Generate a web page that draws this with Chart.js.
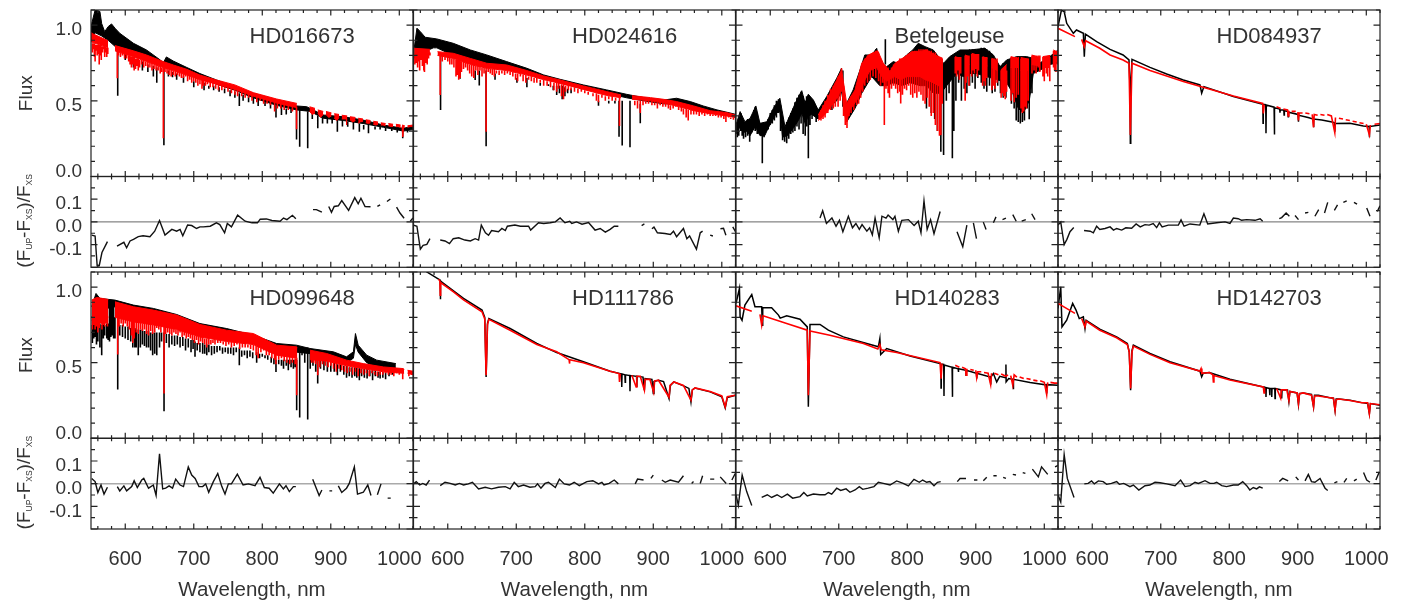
<!DOCTYPE html>
<html>
<head>
<meta charset="utf-8">
<script src="https://cdn.jsdelivr.net/npm/chart.js@4/dist/chart.umd.min.js"></script>
<style>
  html, body { margin: 0; padding: 0; background: #fff; }
  canvas { position: absolute; left: 0; top: 0; }
</style>
</head>
<body>
<div id="figure"></div>
<script>
// wavelength (nm), flux pairs. null = gap in the spectrum
// *Top/*Low are the solid band of a spectrum, *Sticks are absorption lines as [wave, from, to]
const hd016673BlackTop = [[550,1.0],[551,1.01],[556,1.1],[563,1.09],[565.6,1.01],[570,.957],[575,.99],[580,1.008],[585,.98],[592,.946],[612,.88],[631,.836],[651,.77],[655.6,.752],[660,.79],[670,.763],[690,.72],[709,.68],[733,.638],[758,.594],[787,.55],[821,.505],[850,.466],[865,.461],[889,.406],[918,.395],[947,.373],[977,.34],[1006,.318],[1020,.333]];
const hd016673BlackLow = [[550,.9],[556,.95],[565,.93],[575,.9],[585,.86],[612,.81],[631,.78],[655,.73],[670,.71],[690,.69],[709,.65],[733,.61],[760,.57],[787,.52],[821,.47],[850,.44],[870,.43],[889,.385],[918,.37],[947,.35],[977,.325],[1006,.3],[1020,.31]];
const hd016673BlackSticks = [[589,.85,.534],[600,.82,.77],[612,.79,.72],[625,.76,.7],[633,.74,.69],[641,.73,.66],[646,.72,.62],[656.4,.72,.206],[663,.7,.66],[669,.69,.655],[675,.68,.64],[685,.66,.62],[700,.63,.59],[715,.62,.57],[722,.6,.58],[729,.6,.57],[737,.59,.56],[745,.58,.55],[753,.57,.53],[760,.56,.52],[766.5,.55,.466],[772,.54,.5],[780,.53,.49],[787,.52,.48],[794,.52,.466],[804,.5,.466],[812,.49,.45],[820,.47,.39],[828,.46,.406],[835,.45,.41],[842,.45,.42],[850,.44,.245],[854.6,.44,.197],[866.3,.43,.186],[873,.42,.38],[881,.4,.318],[888,.39,.35],[895,.39,.35],[902,.38,.35],[909.6,.38,.296],[917,.37,.33],[924.7,.36,.329],[933,.36,.31],[941.7,.35,.296],[948,.34,.31],[955,.34,.285],[964.6,.33,.31],[972,.33,.31],[980,.32,.3],[989,.32,.3],[997,.31,.29],[1005,.31,.252],[1012,.31,.29]];
const hd016673RedTop = [[550,.95],[551,.946],[575,.897],null,[585,.865],[612,.83],[631,.803],[655,.76],[670,.737],[690,.708],[709,.67],[733,.638],[760,.605],[787,.554],[821,.512],[850.5,.483],null,[869,.461],[877,.45],null,[881,.44],[889,.43],null,[893,.43],[901,.42],null,[905,.415],[912,.41],null,[916,.405],[924,.4],null,[928,.395],[936,.39],null,[940,.385],[947,.38],null,[951,.375],[958,.37],null,[962,.365],[969,.36],null,[973,.355],[980,.35],null,[984,.35],[991,.345],null,[995,.345],[1002,.34],null,[1004,.34],[1008,.335],null,[1012,.335],[1020,.34]];
const hd016673RedLow = [[550,.89],[575,.85],null,[585,.83],[612,.79],[631,.76],[655,.72],[670,.7],[690,.67],[709,.64],[733,.61],[760,.575],[787,.53],[821,.485],[850.5,.455],null,[869,.43],[873,.41],[877,.42],null,[881,.42],[885,.39],[889,.41],null,[893,.41],[897,.39],[901,.4],null,[905,.385],[909,.37],[912,.39],null,[916,.38],[922.7,.38],[923,.34],[923.3,.38],[924,.38],null,[928,.375],[932,.36],[936,.37],null,[940,.351],[943,.36],[947,.365],null,[951,.355],[955,.35],[958,.355],null,[962,.345],[966,.34],[969,.345],null,[973,.34],[976,.34],[980,.335],null,[984,.335],[988,.33],[991,.33],null,[995,.33],[998,.33],[1002,.325],null,[1004,.33],[1005,.263],[1006,.32],[1008,.325],null,[1012,.325],[1016,.33],[1020,.33]];
const hd016673RedSticks = [[552,.88,.82],[553,.88,.84],[555,.88,.79],[556,.87,.76],[558,.87,.83],[559,.87,.8],[561,.87,.81],[562,.87,.74],[564,.87,.8],[565,.86,.77],[567,.86,.82],[568,.86,.84],[570,.86,.79],[571,.86,.82],[573,.85,.79],[574.5,.85,.81],[588.4,.84,.649],[590,.83,.8],[593,.82,.79],[596,.82,.8],[599,.81,.78],[602,.81,.78],[605,.8,.76],[607,.8,.74],[609,.79,.72],[611,.79,.74],[613,.79,.7],[615,.78,.71],[617,.78,.73],[619,.78,.7],[621,.77,.72],[624,.77,.74],[627,.77,.72],[630,.76,.73],[633,.76,.72],[636,.75,.72],[639,.75,.7],[642,.74,.71],[645,.74,.7],[648,.73,.7],[651,.73,.68],[653,.72,.69],[655.6,.72,.252],[658,.72,.69],[661,.72,.68],[664,.71,.67],[667,.71,.66],[670,.7,.67],[673,.7,.66],[676,.7,.67],[679,.69,.66],[682,.69,.65],[685,.68,.65],[688,.68,.66],[691,.67,.63],[694,.67,.64],[697,.66,.62],[700,.66,.63],[703,.65,.62],[706,.65,.6],[709,.64,.61],[712,.64,.58],[714,.64,.6],[717,.63,.6],[720,.63,.61],[724,.62,.59],[728,.62,.59],[732,.61,.58],[736,.61,.57],[741,.6,.57],[745,.6,.58],[750,.59,.56],[755,.58,.55],[760,.58,.54],[764,.57,.53],[770,.56,.53],[775,.56,.52],[780,.55,.52],[785,.54,.5],[792,.53,.49],[797,.53,.5],[802,.52,.48],[807,.51,.48],[812,.5,.47],[818,.49,.43],[822,.49,.45],[827,.48,.45],[832,.48,.44],[838,.47,.44],[844,.46,.43],[850,.46,.312]];

const hd024616BlackTop = [[551,.847],[555,.98],[560,.957],[567,.92],[584,.909],[608,.88],[633,.836],[657,.803],[686,.759],[715.5,.715],[740,.671],[764,.642],[798,.605],[832,.572],[861,.543],[886,.521],[915,.505],[934,.517],[954,.495],[973,.466],[993,.44],[1020,.411]];
const hd024616BlackLow = [[551,.78],[555,.84],[567,.84],[574,.84],[579,.85],[584,.85],[608,.8],[633,.76],[657,.73],[686,.71],[715.5,.68],[740,.65],[764,.62],[798,.58],[832,.55],[861,.52],[886,.5],[915,.48],[934,.48],[954,.46],[973,.44],[993,.42],[1020,.39]];
const hd024616BlackSticks = [[589.5,.8,.44],[618,.7,.646],[640,.7,.638],[646,.7,.602],[656,.7,.2],[669,.68,.64],[701,.65,.62],[715.5,.65,.589],[735,.62,.6],[747,.61,.598],[754,.6,.57],[759,.6,.539],[763,.6,.55],[767,.6,.51],[771,.59,.53],[775,.58,.55],[780,.58,.55],[820,.5,.468],[835,.5,.483],[844,.5,.483],[850,.5,.263],[854.6,.5,.204],[866,.5,.193],[881,.48,.351]];
const hd024616RedTop = [[551,.847],[574,.84],null,[585,.825],[608,.814],[633,.78],[657,.748],[686,.737],[715.5,.7],[740,.664],[764,.638],[798,.598],[832,.561],[853,.539],null,[869,.534],[896,.521],[915,.51],[934,.495],[959,.466],[983,.435],[1007,.422],[1020,.406]];
const hd024616RedLow = [[551,.8],[574,.82],null,[585,.8],[608,.78],[633,.74],[657,.715],[686,.7],[715.5,.67],[740,.64],[764,.615],[798,.575],[832,.535],[853,.52],null,[869,.51],[896,.5],[915,.485],[934,.465],[959,.435],[983,.415],[1007,.4],[1020,.39]];
const hd024616RedSticks = [[552,.81,.74],[554,.81,.75],[556,.81,.72],[558,.81,.76],[559,.81,.7],[561,.81,.77],[563,.82,.73],[565,.82,.7],[566,.82,.69],[568,.82,.75],[570,.82,.74],[572,.82,.78],[574,.82,.8],[589,.8,.539],[592,.8,.76],[596,.79,.77],[600,.79,.76],[603,.79,.74],[606,.78,.74],[609,.78,.72],[612,.77,.66],[614,.77,.67],[616,.77,.64],[618,.77,.65],[620,.76,.69],[623,.76,.71],[626,.75,.72],[629,.75,.7],[632,.74,.68],[635,.74,.66],[638,.74,.65],[641,.73,.7],[644,.73,.67],[647,.73,.7],[650,.72,.66],[653,.72,.68],[656,.72,.296],[659,.71,.69],[662,.71,.68],[665,.71,.67],[668,.71,.66],[671,.7,.68],[675,.7,.67],[679,.7,.68],[683,.7,.67],[687,.7,.68],[691,.69,.67],[695,.69,.66],[699,.68,.64],[702,.68,.63],[706,.68,.66],[710,.67,.63],[714,.67,.62],[718,.66,.64],[722,.66,.63],[726,.65,.62],[730,.65,.62],[735,.64,.62],[740,.64,.6],[745,.63,.6],[750,.63,.59],[755,.62,.57],[759,.62,.56],[762,.62,.58],[766,.61,.53],[769,.61,.51],[772,.6,.56],[776,.6,.57],[780,.59,.57],[785,.59,.56],[790,.58,.55],[795,.58,.56],[800,.57,.55],[805,.56,.54],[812,.55,.53],[817,.55,.5],[820,.54,.49],[825,.54,.52],[830,.53,.5],[835,.53,.51],[840,.53,.5],[845,.52,.5],[850.7,.52,.334],[873,.5,.47],[877,.5,.45],[881,.5,.42],[885,.5,.47],[889,.5,.48],[893,.5,.48],[898,.5,.47],[902,.49,.47],[906,.49,.45],[910,.49,.47],[914,.49,.46],[918,.48,.46],[922,.48,.45],[925,.47,.44],[929,.47,.45],[933,.47,.46],[937,.46,.44],[941,.46,.43],[944,.45,.41],[948,.45,.39],[951,.44,.37],[955,.44,.41],[959,.44,.41],[963,.44,.41],[967,.43,.4],[971,.43,.41],[975,.42,.4],[979,.42,.41],[983,.42,.4],[987,.41,.4],[991,.41,.4],[995,.41,.39],[999,.41,.39],[1003,.41,.38],[1006,.4,.36],[1010,.4,.39],[1013,.39,.38],[1017,.39,.375]];

const betelgeuseBlackTop = [[550,.34],[556,.429],[563,.362],[570.5,.384],[579,.466],[585,.351],[595,.362],[604.5,.45],[614,.517],[621.5,.329],[629,.406],[638.6,.505],[646,.567],[651,.483],[655.6,.543],[663,.505],[670,.439],[682.4,.528],[697,.649],[704,.715],[709,.461],[721,.572],[731,.704],[738,.803],[748,.803],[755.4,.847],[760,.748],[770,.726],[779.6,.759],[787,.748],[799,.803],[808,.836],[816,.88],[826,.858],[838,.836],[853,.748],[862,.792],[877,.836],[891.6,.836],[913.5,.847],[925.7,.803],[935.4,.726],[945,.77],[959.7,.792],[974,.792],[984,.781],[993,.748],[1008,.792],[1020,.836]];
const betelgeuseBlackLow = [[550,.28],[556,.33],[561,.29],[566,.3],[570.5,.27],[578,.33],[585,.27],[592,.27],[597,.32],[602,.36],[609,.42],[614,.43],[618,.26],[625,.27],[633.7,.32],[641,.37],[646,.42],[651,.35],[655.6,.4],[660.5,.41],[670,.38],[682.4,.44],[697,.5],[704,.56],[711.5,.36],[723.7,.45],[733.5,.55],[748,.66],[760,.6],[770,.6],[779.6,.62],[791.8,.6],[804,.62],[818.6,.6],[828.3,.6],[838,.55],[849,.55],[857.5,.6],[872,.68],[881.9,.66],[891.6,.68],[901.3,.68],[915.9,.66],[930.5,.64],[945,.62],[954,.55],[962,.45],[969.5,.42],[978,.5],[984,.68],[993,.7],[1008,.74],[1020,.75]];
const betelgeuseBlackSticks = [[552,.36,.26],[554,.38,.27],[557,.42,.3],[559,.38,.27],[561,.36,.25],[564,.35,.26],[567,.38,.27],[570,.38,.23],[573,.4,.29],[576,.44,.32],[578,.46,.3],[581,.42,.28],[584,.36,.28],[588.4,.34,.087],[591,.34,.26],[594,.36,.3],[597,.38,.31],[600,.42,.34],[603,.44,.35],[606,.47,.37],[609,.5,.39],[612,.51,.42],[615,.47,.3],[618,.38,.24],[621,.33,.23],[624,.36,.22],[627,.39,.25],[630,.42,.28],[633,.45,.29],[636,.49,.3],[639,.52,.33],[642,.54,.31],[645,.56,.35],[648,.53,.28],[651,.5,.27],[653,.53,.33],[655.6,.54,.12],[658,.52,.34],[661,.5,.38],[664,.49,.4],[667,.46,.36],[690,.57,.44],[706,.7,.46],[754,.84,.68],[768,.906,.74],[828,.8,.45],[835,.78,.42],[840,.75,.38],[844,.72,.3],[849,.7,.164],[853,.72,.142],[857,.74,.5],[861,.78,.55],[865.8,.78,.12],[868,.78,.3],[871,.8,.5],[875,.82,.62],[879,.83,.5],[883,.83,.58],[887,.83,.55],[891,.84,.6],[895,.84,.62],[899,.84,.58],[903,.84,.65],[908,.85,.62],[912,.85,.58],[916,.84,.56],[920,.83,.6],[924,.81,.55],[928,.78,.56],[932,.74,.6],[936,.73,.55],[940,.75,.52],[944,.76,.52],[948,.77,.6],[952,.78,.48],[956,.79,.45],[959,.79,.37],[962,.79,.36],[965,.79,.35],[968,.79,.36],[971,.79,.37],[975,.79,.45],[978,.78,.378],[982,.78,.55]];
const betelgeuseRedTop = [[670,.406],[682.4,.505],[697,.638],[704.2,.704],[711.5,.483],[723.7,.572],[733.5,.748],[743.2,.803],[756.8,.831],[765,.748],[774.8,.693],[782,.748],[796.7,.792],[806.4,.825],[818.6,.825],[828.3,.836],[840.5,.803],[851.7,.781],null,[869.7,.792],[878,.78],null,[884.3,.803],[890.6,.79],null,[894,.814],[903.8,.8],null,[910,.792],[916.9,.78],null,[923.2,.781],[931.5,.76],null,[936.4,.704],[945.1,.74],null,[951,.792],[962.2,.78],null,[965.5,.787],[976.8,.775],null,[981.6,.803],[993.8,.785],null,[997.7,.792],[1008.4,.8],null,[1013.2,.836],[1020,.82]];
const betelgeuseRedLow = [[670,.37],[680,.41],[690,.47],[699.4,.53],[704.2,.6],[707.7,.42],[711.5,.36],[716.4,.44],[728.6,.52],[736,.62],[745.6,.7],[755.3,.72],[762.7,.66],[770,.63],[782,.66],[790.4,.64],[799,.66],[808.9,.66],[818.6,.66],[826,.64],[838,.62],[845,.6],[850.7,.6],null,[869.7,.74],[878,.73],null,[884.3,.75],[890.6,.74],null,[894,.76],[903.8,.75],null,[910,.74],[916.9,.73],null,[923.2,.72],[931.5,.7],null,[936.4,.65],[945.1,.66],null,[951,.72],[962.2,.72],null,[965.5,.7],[976.8,.7],null,[981.6,.74],[993.8,.73],null,[997.7,.72],[1008.4,.72],null,[1013.2,.76],[1020,.76]];
const betelgeuseRedSticks = [[674,.44,.37],[677,.47,.38],[680,.5,.39],[684,.54,.42],[688,.58,.44],[692,.6,.45],[695,.62,.46],[699,.66,.46],[702,.68,.5],[704,.715,.56],[707,.6,.4],[709.5,.5,.34],[712,.48,.32],[715,.5,.4],[718,.53,.42],[722,.55,.44],[726,.6,.47],[729,.66,.48],[732,.7,.52],[735,.74,.56],[738,.78,.6],[742,.8,.62],[746,.8,.64],[750,.82,.66],[754,.83,.65],[758,.82,.63],[761,.76,.6],[764,.75,.62],[766.5,.7,.34],[769,.73,.58],[772,.72,.55],[774,.7,.52],[777,.72,.58],[780,.74,.6],[783,.75,.58],[786,.76,.55],[789,.78,.56],[790.4,.78,.483],[793,.78,.54],[796,.79,.58],[799,.8,.57],[802,.81,.6],[805,.82,.54],[808,.82,.52],[811,.83,.55],[814,.83,.52],[817,.84,.56],[820,.84,.54],[823,.84,.5],[826,.84,.48],[829,.84,.52],[832,.83,.46],[835,.83,.4],[838,.82,.42],[841,.82,.34],[844,.8,.3],[847,.79,.27],[849,.78,.274],[851,.78,.48],[870,.79,.68],[872,.79,.66],[874,.79,.7],[876,.79,.64],[878,.79,.68],[884.5,.8,.5],[886,.8,.62],[888,.8,.66],[890,.8,.6],[894,.81,.66],[896,.81,.7],[898,.81,.68],[900,.81,.71],[902,.81,.66],[904,.81,.7],[910,.79,.6],[912,.79,.63],[914,.79,.6],[916,.79,.65],[923.5,.78,.57],[926,.78,.6],[928,.78,.58],[931,.78,.62],[937,.7,.52],[939,.7,.55],[941,.7,.53],[943,.7,.51],[945,.7,.56],[951.5,.79,.5],[954,.79,.55],[956,.79,.49],[959,.79,.52],[962,.79,.54],[966,.78,.45],[968,.78,.42],[970,.78,.43],[972,.78,.46],[974,.78,.45],[976.5,.78,.5],[982,.8,.68],[985,.8,.7],[988,.8,.68],[991,.8,.72],[993.5,.8,.69],[998,.79,.66],[1000,.79,.63],[1003,.79,.68],[1005,.79,.66],[1008,.79,.63],[1013.5,.83,.72],[1015,.83,.7],[1017,.83,.69],[1019.5,.83,.74]];

const hd084937Black = [[550,.99],[555,1.1],[559,1.09],[562.7,1.012],[572.4,.946],[577,.968],[587,.946],[588.4,.792],[590,.94],[606.4,.891],[626,.84],[645,.803],[653.6,.77],[655,.6],[655.6,.219],[656.2,.6],[658,.774],[684.3,.721],[708.6,.677],[732.9,.638],[757.2,.605],[759.7,.55],[763,.594],[806,.528],[849,.477],[849.3,.351],[849.6,.477],[853.2,.475],[853.6,.285],[854,.472],[865.4,.458],[865.8,.278],[866.2,.455],[873.6,.445],[874,.422],[874.4,.44],[879.6,.44],[880,.406],[880.4,.435],[885.6,.43],[886,.395],[886.4,.425],[900.4,.41],[900.8,.362],[901.2,.405],[915,.39],[922.6,.38],[923,.325],[923.4,.38],[935,.373],[950,.36],[953.6,.355],[954,.296],[954.4,.35],[976,.351],[995.7,.334],[1004.2,.33],[1004.5,.259],[1004.8,.33],[1020,.34]];
const hd084937Red = [[550,.979],[574.8,.924],null,[584.5,.906],[588.4,.858],[590.4,.897],[611,.847],[626,.803],[645,.77],[653.6,.748],[655.6,.274],[658,.748],[684.3,.7],[708.6,.664],[732.9,.627],[771.9,.576],[806,.532],[848.8,.483],[849.7,.417],[851,.475],null,[869,.46],[875,.45],null,[879,.445],[885,.44],[886,.4],[887,.435],null,[891,.43],[897,.43],null,[900,.425],[901,.37],[902,.42],[907,.42],null,[911,.42],[917,.415],null,[921,.41],[923,.325],[924,.41],[929,.405],null,[933,.41],[939,.405],null,[943,.41],[949,.4],[954,.29],[955,.39],null,[960,.385],[966,.38],null,[970,.375],[976,.37],null,[980,.365],[986,.36],null,[990,.355],[996,.35],null,[1000,.345],[1004.5,.275],[1006,.34],null,[1012,.345],[1020,.35]];

const hd099648BlackTop = [[551,.87],[557.3,.958],[563,.925],[585,.914],[612,.881],[641,.859],[675,.819],[709,.759],[748,.726],[787,.682],[821,.627],[850,.616],[869.7,.594],[903.8,.572],[923,.539],[933,.572],[936,.693],[940,.616],[952.4,.55],[967,.517],[995,.494]];
const hd099648BlackLow = [[551,.8],[557,.85],[563,.85],[585,.87],[612,.84],[641,.81],[675,.77],[709,.72],[748,.68],[787,.64],[821,.58],[850,.57],[869.7,.56],[903.8,.53],[923,.5],[933,.53],[936,.62],[940,.57],[952.4,.5],[967,.47],[995,.46]];
const hd099648BlackSticks = [[552,.75,.63],[554,.75,.66],[556,.76,.67],[558,.76,.62],[560,.76,.64],[563,.76,.6],[565.6,.75,.55],[568,.75,.66],[570,.75,.68],[573,.76,.66],[575,.76,.65],[577,.88,.64],[579,.9,.67],[581,.9,.68],[583,.89,.66],[585,.8,.66],[589,.8,.322],[592,.75,.68],[596,.75,.67],[600,.74,.66],[604,.74,.65],[608,.73,.64],[611,.73,.6],[614,.73,.6],[616,.72,.6],[619,.72,.55],[622,.72,.6],[625,.72,.62],[628,.71,.61],[631,.71,.6],[634,.71,.6],[637,.7,.58],[640,.7,.55],[643,.7,.56],[646,.7,.55],[650,.7,.6],[653,.7,.64],[656.6,.7,.179],[660,.69,.63],[664,.69,.6],[668,.68,.62],[672,.68,.61],[676,.68,.62],[680,.67,.6],[684,.67,.61],[688,.66,.58],[692,.66,.6],[696,.65,.57],[699,.65,.59],[701.8,.64,.539],[705,.63,.58],[709,.63,.57],[713,.63,.56],[716,.62,.56],[719,.62,.55],[722,.62,.57],[726,.61,.55],[730,.61,.56],[734,.61,.57],[738,.61,.58],[742,.6,.56],[746,.6,.57],[750,.6,.56],[754,.6,.56],[758,.6,.55],[762,.6,.57],[766.5,.6,.483],[770,.58,.54],[774,.58,.55],[778,.58,.53],[782,.58,.54],[786,.57,.53],[791.8,.57,.5],[796,.56,.53],[800,.56,.54],[804,.55,.53],[808,.55,.52],[813,.54,.5],[817,.53,.49],[820,.52,.439],[824,.52,.49],[828,.52,.48],[831,.52,.46],[835,.52,.48],[838,.52,.45],[842,.52,.47],[845.4,.52,.46],[848,.52,.47],[850.2,.52,.185],[854.6,.6,.137],[858,.6,.55],[862,.6,.5],[866.3,.6,.124],[870,.56,.46],[874,.55,.48],[878,.54,.44],[880.9,.53,.362],[885,.52,.46],[890,.52,.45],[895,.51,.44],[900,.5,.44],[905,.5,.44],[909.6,.49,.417],[914,.49,.44],[919,.48,.42],[923,.48,.4],[927,.47,.41],[931,.47,.4],[935,.47,.41],[938,.47,.4],[941.7,.47,.384],[945,.46,.41],[949,.46,.4],[953,.46,.395],[957,.45,.41],[961,.45,.384],[965,.45,.41],[969,.44,.4],[972,.44,.395],[976,.44,.4],[980,.45,.39],[985,.45,.41],[990,.46,.42]];
const hd099648RedTop = [[551,.914],[558.3,.932],[575.3,.918],null,[585,.903],[612,.87],[641,.848],[675,.815],[709,.753],[748,.715],[787,.693],[821,.616],[850,.605],[851.2,.6],null,[869.7,.583],[894,.561],[923,.517],[947.5,.494],[977,.472],[1006,.461],[1007,.455],null,[1012,.45],[1020,.444]];
const hd099648RedLow = [[551,.78],[575.3,.8],null,[585,.8],[612,.77],[641,.75],[675,.72],[709,.67],[748,.64],[787,.62],[821,.55],[850,.53],[851.2,.53],null,[869.7,.52],[894,.51],[923,.48],[947.5,.46],[977,.44],[1006,.43],[1007,.43],null,[1012,.43],[1020,.42]];
const hd099648RedSticks = [[552,.8,.72],[554,.8,.75],[556,.8,.72],[558,.8,.74],[560,.8,.7],[562,.8,.73],[564,.8,.76],[566,.8,.72],[568,.8,.75],[570,.8,.74],[572,.81,.76],[574,.81,.74],[589,.8,.554],[591,.8,.74],[594,.8,.76],[597,.79,.74],[600,.79,.76],[603,.79,.74],[606,.78,.72],[609,.78,.68],[611,.78,.63],[613,.78,.66],[616,.77,.7],[619,.77,.69],[622,.77,.72],[625,.76,.71],[628,.76,.72],[631,.76,.69],[634,.76,.68],[637,.76,.71],[640,.75,.69],[643,.75,.7],[646,.75,.73],[649,.75,.72],[652,.74,.7],[656.6,.74,.296],[659,.74,.69],[662,.74,.7],[665,.73,.69],[668,.73,.68],[671,.73,.7],[674,.72,.69],[677,.72,.68],[680,.72,.7],[683,.71,.67],[686,.71,.68],[689,.7,.66],[692,.7,.67],[695,.69,.66],[698,.69,.65],[701,.68,.63],[704,.68,.65],[707,.67,.62],[710,.67,.64],[713,.67,.63],[716,.66,.62],[719,.66,.6],[722,.66,.62],[725,.65,.62],[728,.65,.63],[731,.65,.62],[735,.65,.63],[739,.65,.63],[743,.64,.62],[747,.64,.61],[751,.64,.62],[755,.64,.6],[759,.64,.61],[763,.64,.62],[767,.63,.59],[771,.63,.6],[775,.63,.6],[779,.62,.6],[783,.62,.59],[787,.62,.58],[791,.61,.55],[794,.61,.53],[798,.6,.57],[802,.6,.58],[806,.59,.55],[810,.58,.55],[814,.58,.53],[818,.57,.52],[820,.56,.49],[824,.56,.52],[828,.55,.53],[832,.55,.51],[836,.54,.5],[840,.54,.49],[844,.54,.5],[848,.53,.49],[850.2,.53,.285],[872,.53,.5],[875,.53,.5],[878,.53,.49],[881,.52,.417],[884,.52,.47],[888,.52,.49],[892,.52,.48],[896,.51,.47],[900,.51,.48],[904,.5,.46],[908,.5,.44],[912,.49,.46],[916,.49,.45],[920,.48,.44],[924,.48,.43],[928,.47,.44],[932,.47,.42],[936,.47,.44],[940,.46,.41],[944,.46,.43],[948,.46,.42],[952,.45,.43],[956,.45,.41],[960,.45,.43],[964,.44,.42],[968,.44,.41],[972,.44,.42],[976,.44,.42],[980,.44,.43],[984,.44,.42],[988,.44,.42],[992,.44,.41],[996,.44,.43],[1000,.44,.42],[1005,.44,.39],[1014,.43,.41],[1018,.43,.42]];

const hd111786Black = [[565,1.12],[569.5,1.1],[589,1.046],[589.2,.92],[589.6,1.04],[623,.925],[650,.848],[654,.8],[656,.406],[658,.76],[660,.792],[691,.726],[730,.627],[759,.567],[798,.506],[837,.444],[852,.428],[853.6,.425],[854,.34],[854.4,.425],[858.6,.42],[859,.37],[859.4,.42],[865.6,.415],[866,.311],[866.4,.415],[875.6,.41],[876,.34],[876.4,.41],[885,.405],[887,.318],[888,.395],[898,.39],[900,.296],[901,.375],[907.6,.384],[915,.375],[923,.263],[925,.35],[930,.373],[945,.345],[952,.33],[955,.241],[957,.32],[961,.333],[983,.307],[1000,.274],[1005,.201],[1008,.27],[1020,.285]];
const hd111786Red = [[586.5,1.053],[588.5,1.04],[589,.947],[589.6,1.03],[608.4,.969],[623,.915],[650,.837],[654,.79],[656,.417],[658,.75],[660,.787],[691,.715],[730,.62],[759,.572],[777,.52],[777.6,.494],[778.2,.52],[798,.5],[837,.444],[850,.428],[850.7,.373],[852,.428],null,[868.7,.417],[875,.34],[876,.41],[881,.41],[887,.318],[888,.39],[895,.39],[900.5,.305],[902,.38],[907.6,.384],[923,.272],[924.5,.35],[930,.373],[944,.35],[955,.252],[957,.32],[961,.333],[983,.31],[1000,.28],[1005,.207],[1008,.275],[1020,.285]];

const hd140283Black = [[550,.892],[555,.991],[556,.804],[558.8,.781],[563,.881],[573,.951],[577.7,.87],[587.5,.87],[588.4,.748],[589,.865],[602,.863],[612,.815],[614.5,.795],[624,.81],[643.4,.788],[654,.737],[655.6,.208],[658,.753],[672.6,.753],[684.8,.715],[706.7,.671],[740.8,.627],[757.8,.605],[760,.66],[761.2,.554],[770,.594],[804,.545],[847.8,.494],[849,.49],[849.3,.333],[849.6,.49],[853.2,.488],[853.6,.28],[854,.485],[865.4,.47],[865.8,.274],[866.2,.47],[874.2,.46],[874.6,.439],[875,.46],[885.4,.45],[885.8,.417],[886.2,.45],[900.9,.43],[901.3,.395],[901.7,.43],[921.3,.405],[921.7,.355],[922.1,.405],[925.7,.428],[930.5,.373],[935,.41],[943.7,.4],[944,.488],[944.3,.373],[948,.395],[954.4,.39],[954.8,.325],[955.2,.39],[979.2,.369],[1003,.353],[1003.5,.296],[1004,.355],[1020,.351]];
const hd140283Red = [[550,.876],[573,.841],null,[585,.819],[587.5,.748],[589.5,.81],[624,.759],[654,.715],[655.6,.285],[658,.71],[687,.682],[736,.627],[757,.59],[760,.62],[762,.585],[784.5,.567],[847.8,.501],[849.3,.395],[850.7,.495],null,[870,.483],[876,.47],null,[880,.47],[885,.46],[885.8,.417],[887,.46],null,[892,.455],[897,.45],null,[900,.45],[901.3,.4],[903,.44],[908,.44],null,[912,.435],[918,.43],[921.7,.355],[923,.43],null,[927,.43],[933,.42],null,[937,.425],[944,.41],[947,.42],null,[951,.415],[954,.351],[956,.42],[960,.405],null,[964,.405],[970,.395],null,[974,.395],[980,.39],null,[984,.385],[990,.38],null,[994,.38],[1000,.37],[1003.5,.289],[1005,.37],null,[1009,.37],[1015,.365],[1020,.365]];

const hd142703Black = [[550,.859],[554,1.002],[555.8,.737],[562.7,.781],[571.4,.892],[576.3,.848],[581,.792],[587,.804],[589.4,.726],[591,.78],[611,.722],[635.6,.671],[651.2,.627],[654,.57],[656,.318],[658,.58],[660,.616],[684.3,.561],[713.5,.506],[757.2,.444],[759.7,.406],[762,.43],[771,.435],[801,.391],[849.7,.34],[851,.34],[853.2,.335],[853.6,.274],[854,.335],[858.6,.33],[859,.285],[859.4,.33],[861.6,.33],[862,.274],[862.4,.33],[866.4,.33],[866.8,.263],[867.2,.33],[876,.32],[876.5,.263],[877,.32],[885,.32],[887,.245],[888.5,.31],[899,.3],[901,.223],[902.5,.295],[908,.3],[920,.29],[923,.208],[924.5,.285],[930,.285],[945,.27],[952,.265],[954.4,.185],[956,.26],[960,.26],[976.3,.252],[993.4,.236],[1002,.23],[1004.5,.163],[1006,.23],[1020,.219]];
const hd142703Red = [[550,.892],[574.8,.826],null,[584.5,.792],[589.4,.737],[591,.775],[611,.715],[635.6,.665],[651.2,.62],[654,.57],[656,.329],[658,.57],[660,.61],[684.3,.555],[713.5,.5],[757,.445],[758.8,.461],[760,.43],[771,.435],[776,.42],[776.8,.373],[777.6,.415],[801,.385],[849.7,.34],[850.7,.3],[851.5,.335],null,[869.2,.329],[875,.266],[876,.32],[884,.32],[887,.25],[888.5,.31],[899,.3],[901,.23],[902.5,.295],[908,.3],[920,.285],[923,.208],[924.5,.28],[930,.28],[945,.27],[952,.265],[954.4,.185],[956,.255],[960,.26],[976.3,.25],[993.4,.235],[1002,.235],[1004.5,.163],[1006,.23],[1020,.222]];

// residuals (F_UP-F_XS)/F_XS
const hd016673Resid = [[551,-.058],[556,-.062],[559,-.193],[562,-.193],[566,-.135],[574,-.087],null,[588,-.107],[598,-.09],[602,-.114],[607,-.084],[612,-.077],[619,-.065],[626,-.061],[636,-.065],[643,-.041],[650,.006],[658,-.058],[668,-.033],[675,-.041],[680,-.033],[684,-.061],[691,-.014],[697,-.016],[704,-.029],[709,-.022],[714,-.022],[724,-.019],[733,-.004],[738,-.012],[745,-.048],[749,-.007],[755,-.022],[764,.03],[775,.003],[785,-.004],[793,-.004],[797,.012],[806,.013],[814,.006],[826,.003],[831,.017],[836,.01],[844,.029],[849,.014],null,[874,.054],[879,.054],[887,.043],null,[897,.068],[901,.042],[905,.068],[911,.071],[916,.094],[926,.051],[935,.107],[940,.08],[944,.104],[950,.068],[958,.067],null,[968,.068],[972,.075],null,[982,.09],[987,.101],null,[996,.065],[1001,.039],[1007,.016],null,[1016,.003],[1020,.017]];
const hd024616Resid = [[550,-.014],[555,-.019],[560,-.12],[564,-.103],[569.5,-.099],[574,-.074],null,[589,-.08],[596,-.084],[602.5,-.096],[608,-.074],[616,-.07],[625,-.08],[633,-.084],[640,-.074],[645,-.08],[649,-.014],[655,-.048],[659.5,-.059],[664,-.038],[674,-.043],[679,-.029],[684,-.038],[687,-.019],[698,-.014],[706,-.019],[718,-.019],[721,-.036],[732.5,-.004],[740,-.007],[749.5,-.004],[757,0],[764,.017],[771,-.004],[778,.003],[781,-.007],[788,0],[796,-.01],[805.5,-.003],[815,-.036],[822.5,-.029],[830,-.045],[837,-.033],[843,-.019],[849,-.019],null,[883,-.016],[887,-.009],null,[898,-.03],[901,-.023],[906,-.048],[917,-.051],[925,-.055],[929.5,-.041],[934,-.065],[944,-.029],[949,-.074],[953,-.062],[963,-.12],[968.5,-.048],[972,-.041],null,[983,-.058],[987,-.062],null,[998,-.03],[1002.5,-.028],[1006,-.059],null,[1016,-.022],[1020,-.043]];
const betelgeuseResid = [[672.6,.017],[676.5,.049],[682,-.007],[690,.017],[696,-.019],[701,.007],[706,-.043],[714,.025],[720,-.026],[725,-.007],[730,-.033],[734,-.012],[741,-.041],[745,-.026],[749,-.057],[753,.017],[759,-.07],[763,.025],[769,.017],[772,.03],[779,.01],[782,.025],[787,-.041],[792,.007],[801.6,.01],[810,-.016],[816,.003],[820,-.048],[824.4,.093],[829,-.033],[834,.01],[839,-.052],[848,.046],null,[872.6,-.043],[881,-.109],[887,-.014],null,[896.5,-.004],[901,-.074],null,[911,-.001],[915,-.033],null,[925.7,-.004],[929.5,.022],null,[939,.01],[944,.017],null,[954,.032],[959,.003],null,[967,.003],[973,.01],null,[981.6,.036],[986.5,.01]];
const hd084937Resid = [[550,-.014],[554,-.001],[559,-.1],[563,-.077],[567.5,-.043],[573,-.025],null,[588,-.038],[597,-.041],[601.6,-.048],[606.4,-.019],[611,-.033],[618.6,-.029],[626,-.022],[631,-.036],[635.6,-.029],[643,-.036],[649,-.026],[657.5,-.028],[664,-.009],[670,-.022],[677,-.012],[683,-.014],[689,-.007],[694,-.025],[698,-.004],[702,-.022],[711,-.014],[725.7,-.014],[729.6,.009],[734,-.019],[742.7,-.009],[757,-.014],[763,.036],[768.5,-.009],[781.6,-.004],[793.8,0],[801,-.007],[806,.017],[813,.014],[818,.007],[825.4,.01],[837.6,.007],[845,.014],[848.8,.003],null,[873,.014],[876.5,.019],[883,.039],[887.7,.025],null,[896,.028],[901,.01],null,[910.6,.039],[915.4,.042],null,[925,.025],[930.5,.054],null,[939,.039],[943.7,.086],null,[953.4,.051],[958,.075],null,[966.5,.086],[971.4,.093],null,[982,.086],[986.5,.078],null,[1000.6,.061],[1005.4,.025],null,[1016,.046],[1020,.071]];
const hd099648Resid = [[551,.023],[556,.009],[560,-.039],[564.6,-.006],[569,-.046],[574,-.016],null,[588.4,-.013],[592,-.032],[598,-.01],[602,-.032],[609.4,-.013],[613,.013],[617.6,-.017],[624,.016],[627,.023],[634,-.02],[641,-.006],[645,-.052],[650,.132],[654.6,-.023],[659,-.02],[664,-.01],[669,-.02],[673.6,.02],[680,-.006],[685,-.013],[692,.074],[697,.038],[702,.023],[707.6,-.013],[713,-.013],[717.4,-.001],[721.8,-.038],[728.6,.009],[735,.045],[741,-.013],[745.6,-.046],[750.5,-.001],[755,-.001],[763.6,.042],[772,-.006],[779.7,-.001],[789.4,-.009],[796.7,.028],[803,-.017],[810,-.02],[816,-.042],[825,-.001],[830.8,-.023],[834.6,-.009],[839.5,-.035],[845.4,-.013],[849,-.013],null,[873.6,.019],[883,-.052],[887,-.028],null,[898,-.032],[902,-.032],null,[911,-.01],[916,-.039],[923,-.02],[927,.001],[934.4,.074],[939,-.046],[947.5,-.038],[954,-.006],[958.7,-.052],null,[968,-.049],[973.3,-.001],null,[983,-.064],[987.5,-.064]];
const hd111786Resid = [[550,-.001],[554,.009],[559,-.006],[563.6,.001],[568.5,-.006],[573.4,.016],null,[589,-.009],[596,.006],[603.5,.001],[611,-.006],[617,.001],[623,-.006],[630,-.001],[636,.006],[645,-.023],[654.6,-.016],[664,-.023],[674,-.016],[684,-.013],[691,-.023],[697,.006],[703,-.013],[710.6,-.006],[720,-.016],[727.6,-.013],[731,-.001],[736,-.02],[742,.001],[747,.006],[757,-.017],[763,.02],[770,-.001],[777.7,-.006],[784.5,.006],[792,-.009],[803,.009],[811.8,.013],[820,-.001],[825,.006],[828,-.006],[835.6,.001],[843,.016],[849,-.001],null,[873.6,-.001],[877,.02],[885.8,.016],null,[896.5,.023],[900,.038],null,[912.5,.016],[917.4,.006],[924.7,.016],[936.8,.006],[944,.035],null,[956,.001],[958.7,.009],null,[968.5,.001],[972,.035],null,[983,.02],[989,.02],null,[997.7,.03],[1006.4,.001],null,[1014.7,.016],[1019.6,.045]];
const hd140283Resid = [[550,-.049],[553.4,-.096],[559,.038],[565.6,-.035],[573,-.096],null,[587.5,-.061],[595.7,-.049],[602,-.061],[610,-.049],[616.7,-.061],[625,-.046],[632.7,-.064],[643.4,-.057],[649,-.039],[654,-.054],[663,-.046],[672.6,-.049],[680,-.049],[684.8,-.039],[689.7,-.046],[697,-.02],[702.8,-.03],[710.6,-.023],[716.4,-.038],[723.7,-.028],[730,-.013],[735,-.025],[743,-.02],[751.4,-.013],[757.8,.006],[765,.001],[774.8,-.006],[784.5,.012],[794,.001],[801.6,-.01],[809.8,.019],[817.6,.006],[822.5,.016],[828.3,.006],[833,.009],[839,-.009],[844,.006],[848.8,.009],null,[873,.009],[877,.023],[885.7,.023],null,[897.4,.016],[902.3,.016],null,[911,.013],[916,.028],null,[925.7,.035],[930.5,.035],null,[940,.028],[944,.023],null,[954,.041],[958.7,.038],null,[968.5,.049],[972.4,.045],null,[982.6,.064],[991.3,.03],[996,.074],[1005,.041],null,[1015.7,.074],[1020,.08]];
const hd142703Resid = [[550,-.049],[554,-.081],[559,.128],[563.6,.023],[573.4,-.061],null,[588.4,-.001],[594,.001],[599,.012],[603,-.001],[609,.012],[616,.009],[621,-.003],[628,.001],[635.6,.009],[639.5,-.003],[646,.001],[655,-.013],[660,-.006],[668,-.028],[677,-.009],[684,-.006],[691.6,.006],[699,.004],[708.6,-.001],[720.8,-.009],[729,.016],[735.4,-.013],[742.7,-.009],[750,.006],[754.9,.001],[764.6,.013],[771.9,.001],[777.7,.001],[781.6,.006],[789,-.009],[796,-.013],[806,-.006],[813,-.006],[819.6,.009],[825.4,-.009],[830,-.028],[835,-.017],[840,-.023],[844,-.014],[848.8,-.02],null,[873,.009],[878,.023],[886,.012],null,[897,.03],[901,.016],null,[910.6,.012],[915.4,.041],[920,.009],[925,.006],[932.5,.023],[939.8,-.02],[943.7,-.03],null,[953.4,.003],[957.8,.009],null,[967.5,.006],[971.4,.023],null,[982,.012],[986,.02],null,[996,.049],[1000.6,.016],[1005.4,.006],null,[1014,.016],[1019,.052]];

const starNames = ['HD016673','HD024616','Betelgeuse','HD084937','HD099648','HD111786','HD140283','HD142703'];
const starResiduals = [hd016673Resid,hd024616Resid,betelgeuseResid,hd084937Resid,hd099648Resid,hd111786Resid,hd140283Resid,hd142703Resid];
// band stars are drawn as area between top and low plus sticks, the others as a plain line
const starSpectra = [
  {blackTop:hd016673BlackTop, blackLow:hd016673BlackLow, blackSticks:hd016673BlackSticks, redTop:hd016673RedTop, redLow:hd016673RedLow, redSticks:hd016673RedSticks},
  {blackTop:hd024616BlackTop, blackLow:hd024616BlackLow, blackSticks:hd024616BlackSticks, redTop:hd024616RedTop, redLow:hd024616RedLow, redSticks:hd024616RedSticks},
  {blackTop:betelgeuseBlackTop, blackLow:betelgeuseBlackLow, blackSticks:betelgeuseBlackSticks, redTop:betelgeuseRedTop, redLow:betelgeuseRedLow, redSticks:betelgeuseRedSticks},
  {black:hd084937Black, red:hd084937Red},
  {blackTop:hd099648BlackTop, blackLow:hd099648BlackLow, blackSticks:hd099648BlackSticks, redTop:hd099648RedTop, redLow:hd099648RedLow, redSticks:hd099648RedSticks},
  {black:hd111786Black, red:hd111786Red},
  {black:hd140283Black, red:hd140283Red},
  {black:hd142703Black, red:hd142703Red}
];

const waveTicks = [600,700,800,900,1000];
const fluxTicks = [0.063,0.5,1.0];  // the 0.0 label sits above the corner
const fluxTickLabels = ['0.0','0.5','1.0'];
const residTicks = [-0.1,0,0.1];
const residTickLabels = ['-0.1','0.0','0.1'];

const W = 1405, H = 604;
const colLeft = [91,413.5,736,1058];
const colWidth = 322;
const specTop = [10,272], specBottom = [176.5,438.3], residBottom = [267.3,529];
const fontName = '"Liberation Sans", Arial, sans-serif';
const inkColor = '#333';
const frameColor = '#222';

function toPoints(list) {
  let lastX = 550;
  return list.map(p => {
    if (p) { lastX = p[0]; return {x:p[0], y:p[1]}; }
    return {x:lastX, y:null};
  });
}

function lineSet(list, color, width, order, fill) {
  return {data:toPoints(list), borderColor:color, backgroundColor:color, borderWidth:width, pointRadius:0,
          tension:0, order:order, fill:fill || false, spanGaps:false, borderJoinStyle:'miter'};
}

function stickSet(sticks, color, order) {
  const list = [];
  sticks.forEach(s => { list.push([s[0],s[1]], [s[0],s[2]], null); });
  return lineSet(list, color, 1.6, order);
}

// box and inward ticks on all four sides
function framePlugin(yMinor, yMajor) {
  return {
    id:'frame',
    afterDatasetsDraw(chart) {
      const a = chart.chartArea, c = chart.ctx, xs = chart.scales.x, ys = chart.scales.y;
      c.save();
      c.strokeStyle = frameColor;
      c.lineWidth = 1.2;
      c.strokeRect(a.left, a.top, a.right-a.left, a.bottom-a.top);
      c.beginPath();
      for (let v = 560; v <= 1020; v += 20) {
        const px = xs.getPixelForValue(v);
        const len = v % 100 === 0 ? 5.5 : 3;
        c.moveTo(px, a.bottom); c.lineTo(px, a.bottom-len);
        c.moveTo(px, a.top); c.lineTo(px, a.top+len);
      }
      const n = Math.round((ys.max-ys.min)/yMinor);
      for (let i = 0; i <= n; i++) {
        const v = ys.min + i*yMinor;
        const isMajor = Math.abs(v/yMajor - Math.round(v/yMajor)) < 1e-6;
        const px = ys.getPixelForValue(v);
        const len = isMajor ? 6.5 : 4;
        c.moveTo(a.left, px); c.lineTo(a.left+len, px);
        c.moveTo(a.right, px); c.lineTo(a.right-len, px);
      }
      c.stroke();
      c.restore();
    }
  };
}

function starLabelPlugin(name) {
  return {
    id:'starLabel',
    afterDraw(chart) {
      const c = chart.ctx, a = chart.chartArea;
      c.save();
      c.font = '22px ' + fontName;
      c.fillStyle = inkColor;
      c.textAlign = 'left';
      c.textBaseline = 'middle';
      c.fillText(name, a.left+158.5, a.top+27);
      c.restore();
    }
  };
}

// the residual axis title needs subscripts
const residTitlePlugin = {
  id:'residTitle',
  afterDraw(chart) {
    const c = chart.ctx, a = chart.chartArea;
    const parts = [['(F',0],['UP',1],['-F',0],['XS',1],[')/F',0],['XS',1]];
    const fontOf = sub => (sub ? '8.5px ' : '19px ') + fontName;
    let total = 0;
    parts.forEach(p => { c.font = fontOf(p[1]); total += c.measureText(p[0]).width; });
    c.save();
    c.translate(29.5, (a.top+a.bottom)/2 - 1);
    c.rotate(-Math.PI/2);
    c.fillStyle = inkColor;
    c.textAlign = 'left';
    c.textBaseline = 'alphabetic';
    let pos = -total/2;
    parts.forEach(p => {
      c.font = fontOf(p[1]);
      c.fillText(p[0], pos, p[1] ? 2 : 0);
      pos += c.measureText(p[0]).width;
    });
    c.restore();
  }
};

function makeChart(rect, datasets, cfg) {
  const canvas = document.createElement('canvas');
  canvas.width = W; canvas.height = H;
  canvas.style.width = W+'px'; canvas.style.height = H+'px';
  document.getElementById('figure').appendChild(canvas);
  const showX = cfg.showX, showY = cfg.showY;
  return new Chart(canvas.getContext('2d'), {
    type:'line',
    data:{datasets:datasets},
    plugins:cfg.plugins,
    options:{
      responsive:false,
      animation:false,
      devicePixelRatio:1,
      parsing:{xAxisKey:'x', yAxisKey:'y'},
      layout:{padding:{left:0, top:rect.top, right:W-rect.right, bottom:0}},
      plugins:{legend:{display:false}, title:{display:false}, tooltip:{enabled:false}},
      scales:{
        x:{
          type:'linear', min:550, max:1020, position:'bottom',
          grid:{display:false, drawTicks:false}, border:{display:false},
          afterBuildTicks:s => { s.ticks = waveTicks.map(v => ({value:v})); },
          afterFit:s => { s.height = H-rect.bottom; s.paddingLeft = s.paddingRight = 0; },
          ticks:{display:showX, padding:18, autoSkip:false, maxRotation:0, color:inkColor,
                 font:{family:fontName, size:20}, callback:v => String(v)},
          title:{display:showX, text:'Wavelength, nm', color:inkColor, font:{family:fontName, size:20.5}, padding:{top:0, bottom:1}}
        },
        y:{
          type:'linear', min:cfg.yMin, max:cfg.yMax, position:'left',
          grid:{display:false, drawTicks:false}, border:{display:false},
          afterBuildTicks:s => { s.ticks = cfg.yTicks.map(v => ({value:v})); },
          afterFit:s => { s.width = rect.left; s.paddingTop = s.paddingBottom = 0; },
          ticks:{display:showY, padding:9, labelOffset:5, autoSkip:false, color:inkColor,
                 font:{family:fontName, size:19}, callback:(v,i) => cfg.yLabels[i]},
          title:{display:showY && !!cfg.yTitle, text:cfg.yTitle, color:inkColor, font:{family:fontName, size:19}, padding:{top:15.5, bottom:0}}
        }
      }
    }
  });
}

starNames.forEach((name, i) => {
  const col = i % 4, row = Math.floor(i/4);
  const left = colLeft[col], right = left+colWidth;
  const spec = starSpectra[i];
  let specSets;
  if (spec.black) {
    specSets = [lineSet(spec.red,'#ff0000',1.6,1), lineSet(spec.black,'#000',1.5,2)];
  } else {
    specSets = [lineSet(spec.redTop,'#ff0000',1,1), lineSet(spec.redLow,'#ff0000',1,1,'-1'), stickSet(spec.redSticks,'#ff0000',1),
                lineSet(spec.blackTop,'#000',1,2), lineSet(spec.blackLow,'#000',1,2,'-1'), stickSet(spec.blackSticks,'#000',2)];
  }
  makeChart({left:left, right:right, top:specTop[row], bottom:specBottom[row]}, specSets, {
    showX:false, showY:col===0, yMin:0, yMax:1.1, yTicks:fluxTicks, yLabels:fluxTickLabels, yTitle:'Flux',
    plugins:[framePlugin(0.1,0.5), starLabelPlugin(name)]
  });
  const zeroColor = row === 0 ? '#666' : '#aaa';
  const residSets = [lineSet(starResiduals[i],'#111',1.4,1),
                     lineSet([[550,0],[1020,0]],zeroColor,row===0?1:1.5,2)];
  makeChart({left:left, right:right, top:specBottom[row], bottom:residBottom[row]}, residSets, {
    showX:row===1, showY:col===0, yMin:-0.2, yMax:0.2, yTicks:residTicks, yLabels:residTickLabels, yTitle:'',
    plugins:col===0 ? [framePlugin(0.05,0.1), residTitlePlugin] : [framePlugin(0.05,0.1)]
  });
});
</script>
</body>
</html>
